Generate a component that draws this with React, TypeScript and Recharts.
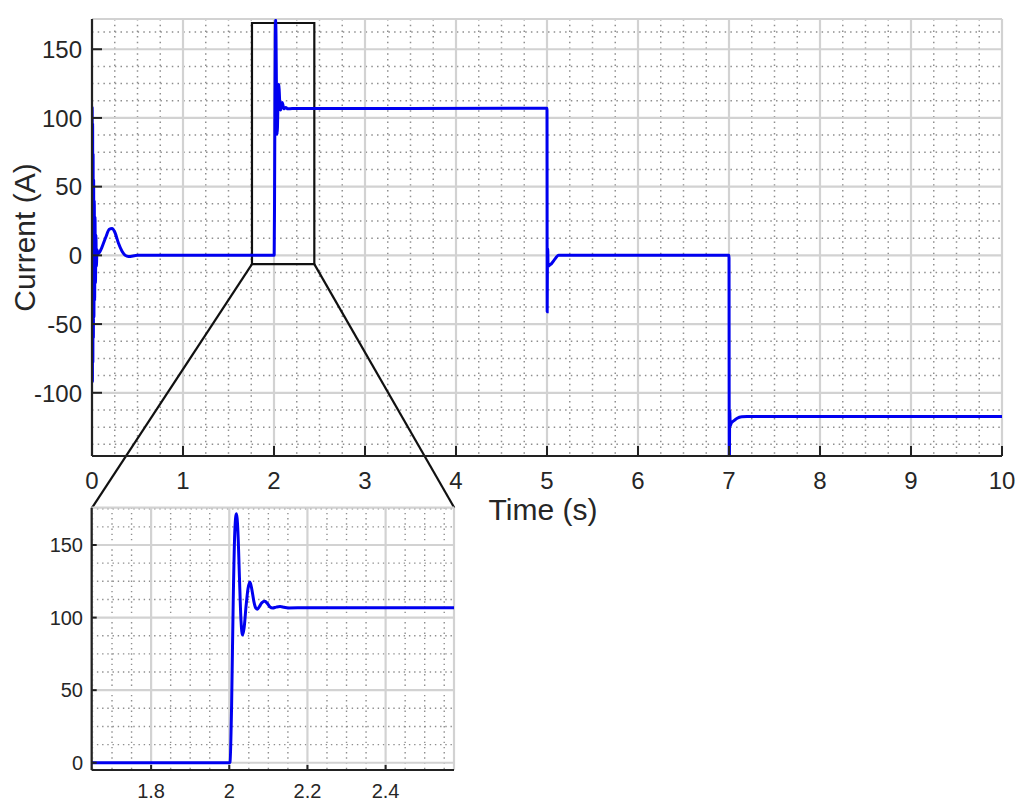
import React from 'react';
import { LineChart, Line, XAxis, YAxis, CartesianGrid, ReferenceArea, ReferenceLine } from 'recharts';

// ---- data ----
const timeS = [
  0, 0.002, 0.0045, 0.007, 0.0095, 0.012, 0.015, 0.018, 0.021, 0.025, 0.029, 0.033, 0.038, 0.043, 0.048, 0.055, 0.065,
  0.08, 0.11, 0.15, 0.19, 0.22, 0.25, 0.29, 0.33, 0.366, 0.4, 0.5,
  2.0, 2.002, 2.006, 2.01, 2.014, 2.018, 2.022, 2.026, 2.03, 2.034, 2.038, 2.043, 2.048, 2.053, 2.058, 2.063, 2.068,
  2.072, 2.077, 2.083, 2.091, 2.098, 2.104, 2.111, 2.12, 2.13, 2.14, 2.15, 2.2,
  5.0, 5.002, 5.005, 5.008, 5.012, 5.03, 5.05, 5.073, 5.1, 5.128, 5.2,
  7.0, 7.003, 7.008, 7.014, 7.025, 7.05, 7.09, 7.14, 7.2, 10,
];
const currentA = [
  0, 108, -92, 96, -78, 74, -60, 55, -45, 40, -33, 28, -20, 15, -8, 4, 1,
  2, 6, 13, 19, 19.6, 17, 9, 3, 0, -0.8, 0,
  0, 0.5, 40, 110, 158, 171.5, 160, 128, 98, 88, 93, 108, 120, 124.5, 119, 111, 106.5,
  105.8, 107.5, 110.2, 111.2, 109.5, 107.4, 106.6, 107.2, 107.6, 107.1, 106.6, 106.8,
  107, -41, 2, 5, -8, -7, -6, -4, -1.5, 0, 0,
  0, -165, -113, -124, -122, -120.5, -118.5, -117.5, -117.3, -117.3,
];
const data = timeS.map((t, k) => ({ t, i: currentA[k] }));

const mainXTicks = [0, 1, 2, 3, 4, 5, 6, 7, 8, 9, 10];
const mainYTicks = [-100, -50, 0, 50, 100, 150];
const mainXDomain = [0, 10];
const mainYDomain = [-146, 172];

const insetXTicks = [1.8, 2, 2.2, 2.4];
const insetYTicks = [0, 50, 100, 150];
const insetXDomain = [1.648, 2.575];
const insetYDomain = [-5, 175.7];

// zoom box (data coords of main chart)
const zoomBox = { x1: 1.758, x2: 2.443, y1: -6.4, y2: 169.1 };
const connectorEnds = { xLeft: 0, xRight: 3.981, y: -183.7 };

const range = (a: number, b: number, s: number) => {
  const out: number[] = [];
  for (let v = a; v <= b + 1e-9; v += s) out.push(Math.round(v * 1000) / 1000);
  return out;
};
const mainXMinor = range(0.25, 9.75, 0.25).filter((v) => Math.abs(v - Math.round(v)) > 1e-6);
const mainYMinor = range(-137.5, 162.5, 12.5).filter((v) => v % 50 !== 0);
const insetXMinor = range(1.65, 2.55, 0.05).filter((v) => Math.abs(v * 5 - Math.round(v * 5)) > 1e-6);
const insetYMinor = range(12.5, 175, 12.5).filter((v) => v % 50 !== 0);

const FONT = '"Liberation Sans", Arial, Helvetica, sans-serif';
const AX = '#222222';
const TXT = '#262626';
const BLUE = '#0000f0';
const MAJOR = '#d2d2d2';
const MINOR = '#8e8e8e';

const mkTicks = (len: number, fs: number, gapX: number, dyY: number, dyX: number) => ({
  left: (p: any) => (
    <g>
      <line x1={p.x} y1={p.y} x2={p.x + len} y2={p.y} stroke={AX} strokeWidth={2} />
      <text x={p.x - gapX} y={p.y + dyY} textAnchor="end" fontSize={fs} fill={TXT} fontFamily={FONT}>
        {p.payload.value}
      </text>
    </g>
  ),
  right: (p: any) => <line x1={p.x} y1={p.y} x2={p.x - len} y2={p.y} stroke={AX} strokeWidth={2} />,
  bottom: (p: any) => (
    <g>
      <line x1={p.x} y1={p.y} x2={p.x} y2={p.y - len} stroke={AX} strokeWidth={2} />
      <text x={p.x} y={p.y + dyX} textAnchor="middle" fontSize={fs} fill={TXT} fontFamily={FONT}>
        {p.payload.value}
      </text>
    </g>
  ),
  top: (p: any) => <line x1={p.x} y1={p.y} x2={p.x} y2={p.y + len} stroke={AX} strokeWidth={2} />,
});

const mainTicks = mkTicks(10, 24, 10, 8.8, 33);
const insetTicks = mkTicks(5, 20, 8.7, 7, 27.7);

export default function App() {
  return (
    <div style={{ position: 'absolute', left: 0, top: 0, width: 1024, height: 811, background: '#fff', fontFamily: FONT }}>
      <div style={{ position: 'absolute', left: 0, top: 0 }}>
        <LineChart width={1024} height={811} data={data} margin={{ top: 19, right: 22, bottom: 295, left: 0 }}>
          <XAxis xAxisId="mx" dataKey="t" type="number" domain={mainXDomain} ticks={mainXMinor} hide allowDataOverflow interval={0} />
          <YAxis yAxisId="my" type="number" domain={mainYDomain} ticks={mainYMinor} hide allowDataOverflow interval={0} />
          <CartesianGrid xAxisId="mx" yAxisId="my" stroke={MINOR} strokeWidth={1.5} strokeDasharray="1.5 4.2" />
          <CartesianGrid stroke={MAJOR} strokeWidth={2.2} />
          <XAxis
            dataKey="t"
            type="number"
            domain={mainXDomain}
            ticks={mainXTicks}
            interval={0}
            allowDataOverflow
            height={60}
            tickSize={0}
            tickMargin={0}
            tickLine={false}
            axisLine={{ stroke: AX, strokeWidth: 2.2 }}
            tick={mainTicks.bottom}
            label={() => (
              <text x={543} y={520} textAnchor="middle" fontSize={30} fill={TXT} fontFamily={FONT}>
                Time (s)
              </text>
            )}
          />
          <XAxis
            xAxisId="top"
            orientation="top"
            dataKey="t"
            type="number"
            domain={mainXDomain}
            ticks={mainXTicks}
            interval={0}
            allowDataOverflow
            height={0}
            tickSize={0}
            tickMargin={0}
            tickLine={false}
            axisLine={{ stroke: AX, strokeWidth: 2.2 }}
            tick={mainTicks.top}
          />
          <YAxis
            type="number"
            domain={mainYDomain}
            ticks={mainYTicks}
            interval={0}
            allowDataOverflow
            width={92}
            tickSize={0}
            tickMargin={0}
            tickLine={false}
            axisLine={{ stroke: AX, strokeWidth: 2.2 }}
            tick={mainTicks.left}
            label={() => (
              <text
                x={35}
                y={237.5}
                transform="rotate(-90 35 237.5)"
                textAnchor="middle"
                fontSize={30}
                fill={TXT}
                fontFamily={FONT}
              >
                Current (A)
              </text>
            )}
          />
          <YAxis
            yAxisId="right"
            orientation="right"
            type="number"
            domain={mainYDomain}
            ticks={mainYTicks}
            interval={0}
            allowDataOverflow
            width={0}
            tickSize={0}
            tickMargin={0}
            tickLine={false}
            axisLine={{ stroke: AX, strokeWidth: 2.2 }}
            tick={mainTicks.right}
          />
          <Line
            dataKey="i"
            type="monotone"
            stroke={BLUE}
            strokeWidth={3}
            dot={false}
            activeDot={false}
            isAnimationActive={false}
          />
          <ReferenceArea
            x1={zoomBox.x1}
            x2={zoomBox.x2}
            y1={zoomBox.y1}
            y2={zoomBox.y2}
            fill="none"
            fillOpacity={0}
            stroke="#111"
            strokeWidth={2.2}
            ifOverflow="visible"
          />
          <ReferenceLine
            segment={[{ x: zoomBox.x1, y: zoomBox.y1 }, { x: connectorEnds.xLeft, y: connectorEnds.y }]}
            stroke="#111"
            strokeWidth={2.2}
            ifOverflow="visible"
          />
          <ReferenceLine
            segment={[{ x: zoomBox.x2, y: zoomBox.y1 }, { x: connectorEnds.xRight, y: connectorEnds.y }]}
            stroke="#111"
            strokeWidth={2.2}
            ifOverflow="visible"
          />
        </LineChart>
      </div>
      <div style={{ position: 'absolute', left: 0, top: 0 }}>
        <LineChart width={470} height={811} data={data} margin={{ top: 507.7, right: 16, bottom: 6, left: 0 }}>
          <XAxis xAxisId="mx" dataKey="t" type="number" domain={insetXDomain} ticks={insetXMinor} hide allowDataOverflow interval={0} />
          <YAxis yAxisId="my" type="number" domain={insetYDomain} ticks={insetYMinor} hide allowDataOverflow interval={0} />
          <CartesianGrid xAxisId="mx" yAxisId="my" stroke={MINOR} strokeWidth={1.4} strokeDasharray="1.4 3.8" />
          <CartesianGrid stroke={MAJOR} strokeWidth={2.2} />
          <XAxis
            dataKey="t"
            type="number"
            domain={insetXDomain}
            ticks={insetXTicks}
            interval={0}
            allowDataOverflow
            height={35}
            tickSize={0}
            tickMargin={0}
            tickLine={false}
            axisLine={{ stroke: AX, strokeWidth: 2.2 }}
            tick={insetTicks.bottom}
          />
          <XAxis
            xAxisId="top"
            orientation="top"
            dataKey="t"
            type="number"
            domain={insetXDomain}
            ticks={insetXTicks}
            interval={0}
            allowDataOverflow
            height={0}
            tickSize={0}
            tickMargin={0}
            tickLine={false}
            axisLine={{ stroke: AX, strokeWidth: 2.2 }}
            tick={insetTicks.top}
          />
          <YAxis
            type="number"
            domain={insetYDomain}
            ticks={insetYTicks}
            interval={0}
            allowDataOverflow
            width={91.7}
            tickSize={0}
            tickMargin={0}
            tickLine={false}
            axisLine={{ stroke: AX, strokeWidth: 2.2 }}
            tick={insetTicks.left}
          />
          <YAxis
            yAxisId="right"
            orientation="right"
            type="number"
            domain={insetYDomain}
            ticks={insetYTicks}
            interval={0}
            allowDataOverflow
            width={0}
            tickSize={0}
            tickMargin={0}
            tickLine={false}
            axisLine={{ stroke: AX, strokeWidth: 2.2 }}
            tick={insetTicks.right}
          />
          <Line
            dataKey="i"
            type="monotone"
            stroke={BLUE}
            strokeWidth={3}
            dot={false}
            activeDot={false}
            isAnimationActive={false}
          />
        </LineChart>
      </div>
    </div>
  );
}
